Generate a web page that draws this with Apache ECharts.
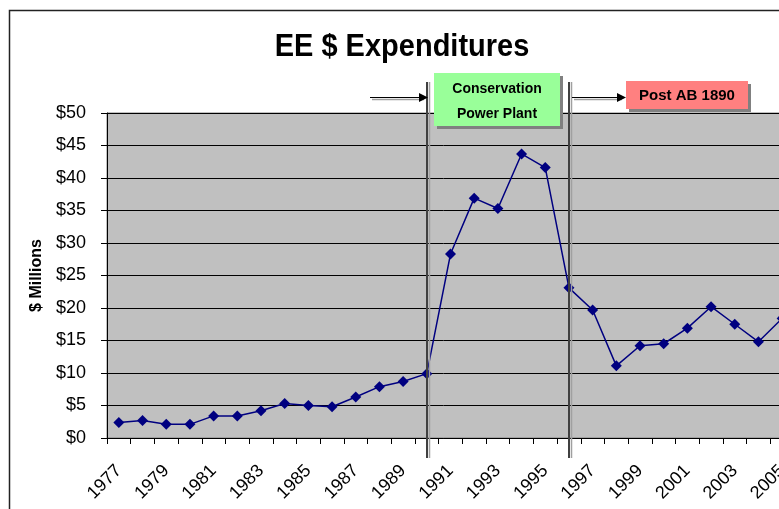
<!DOCTYPE html>
<html>
<head>
<meta charset="utf-8">
<script src="https://cdn.jsdelivr.net/npm/echarts@6/dist/echarts.min.js"></script>
<style>
    html, body { margin: 0; padding: 0; background: #fff; }
    #main { width: 779px; height: 509px; }
</style>
</head>
<body>
<div id="main"></div>
<script>
// 年份
const years = ['1977', '1978', '1979', '1980', '1981', '1982', '1983', '1984', '1985', '1986',
    '1987', '1988', '1989', '1990', '1991', '1992', '1993', '1994', '1995', '1996',
    '1997', '1998', '1999', '2000', '2001', '2002', '2003', '2004', '2005'];
// 支出 ($ Millions)
const spend = [2.4, 2.7, 2.1, 2.1, 3.4, 3.4, 4.2, 5.3, 5.0, 4.8,
    6.3, 7.9, 8.7, 9.9, 28.3, 36.9, 35.3, 43.7, 41.6, 23.1,
    19.7, 11.1, 14.2, 14.5, 16.9, 20.2, 17.5, 14.8, 18.4];
// 分隔年份
const markYears = ['1990', '1996'];

const font = 'Liberation Sans, Arial, sans-serif';
const chart = echarts.init(document.getElementById('main'));

let option = {
    animation: false,
    backgroundColor: '#fff',
    grid: {
        left: 107,
        top: 113,
        width: 687,
        height: 325,
        outerBoundsMode: 'none',
        show: true,
        backgroundColor: '#C0C0C0',
        borderColor: '#808080',
        borderWidth: 1,
    },
    xAxis: {
        type: 'category',
        data: years,
        boundaryGap: true,
        axisLine: { lineStyle: { color: '#000', width: 1 } },
        axisTick: { show: true, interval: 0, length: 6, lineStyle: { color: '#000' } },
        axisLabel: {
            interval: 1,
            rotate: 45,
            margin: 30,
            color: '#000',
            fontFamily: font,
            fontSize: 18,
        },
        splitLine: { show: false },
    },
    yAxis: {
        type: 'value',
        min: 0,
        max: 50,
        interval: 5,
        name: '$ Millions',
        nameLocation: 'middle',
        nameGap: 60,
        nameTextStyle: { fontFamily: font, fontWeight: 'bold', fontSize: 16, color: '#000' },
        axisLine: { show: true, lineStyle: { color: '#000', width: 1 } },
        axisTick: { show: true, length: 6, lineStyle: { color: '#000' } },
        axisLabel: {
            margin: 21,
            color: '#000',
            fontFamily: font,
            fontSize: 18,
            formatter: (v) => '$' + v,
        },
        splitLine: { show: true, lineStyle: { color: '#000', width: 1 } },
    },
    series: [
        {
            type: 'line',
            data: spend,
            symbol: 'diamond',
            symbolSize: 11,
            itemStyle: { color: '#000080' },
            lineStyle: { color: '#000080', width: 1.5 },
        },
    ],
};
chart.setOption(option);

// 注释图形
const graphics = [
    // 外边框
    {
        type: 'rect',
        shape: { x: 9.5, y: 10.5, width: 900, height: 600 },
        style: { fill: null, stroke: '#222', lineWidth: 1.5 },
        z: 1,
    },
    {
        type: 'text',
        x: 402,
        y: 47,
        scaleY: 1.08,
        style: {
            text: 'EE $ Expenditures',
            fontFamily: font,
            fontWeight: 'bold',
            fontSize: 29,
            fill: '#000',
            align: 'center',
            verticalAlign: 'middle',
        },
        z: 10,
    },
];

markYears.forEach((yr) => {
    const x = Math.round(chart.convertToPixel({ xAxisIndex: 0 }, yr));
    graphics.push({
        type: 'line',
        shape: { x1: x + 2.5, y1: 82, x2: x + 2.5, y2: 458 },
        style: { stroke: '#A0A0A0', lineWidth: 1.5 },
        z: 20,
    });
    graphics.push({
        type: 'line',
        shape: { x1: x, y1: 82, x2: x, y2: 458 },
        style: { stroke: '#404040', lineWidth: 2 },
        z: 21,
    });
});

// 箭头
const arrow = (x1, x2, y) => {
    graphics.push({
        type: 'line',
        shape: { x1: x1 + 2, y1: y + 2, x2: x2 - 4, y2: y + 2 },
        style: { stroke: '#A0A0A0', lineWidth: 1.5 },
        z: 20,
    });
    graphics.push({
        type: 'line',
        shape: { x1: x1, y1: y, x2: x2 - 6, y2: y },
        style: { stroke: '#000', lineWidth: 1 },
        z: 21,
    });
    graphics.push({
        type: 'polygon',
        shape: { points: [[x2, y], [x2 - 9, y - 4.5], [x2 - 9, y + 4.5]] },
        style: { fill: '#000' },
        z: 21,
    });
};
arrow(370, 428, 97.5);
arrow(572, 626, 97.5);

// 标注框
const box = (x, y, w, h, fill, lines, ys, size) => {
    graphics.push({
        type: 'rect',
        shape: { x: x + 3, y: y + 3, width: w, height: h },
        style: { fill: '#808080' },
        z: 22,
    });
    graphics.push({
        type: 'rect',
        shape: { x: x, y: y, width: w, height: h },
        style: { fill: fill },
        z: 23,
    });
    lines.forEach((t, i) => {
        graphics.push({
            type: 'text',
            x: x + w / 2,
            y: ys[i],
            style: {
                text: t,
                fontFamily: font,
                fontWeight: 'bold',
                fontSize: size,
                fill: '#000',
                align: 'center',
                verticalAlign: 'middle',
            },
            z: 24,
        });
    });
};
box(434, 73, 126, 53, '#99FF99', ['Conservation', 'Power Plant'], [89, 114], 14);
box(626, 81, 122, 28, '#FF8080', ['Post AB 1890'], [96], 15);

chart.setOption({ graphic: graphics });
</script>
</body>
</html>
